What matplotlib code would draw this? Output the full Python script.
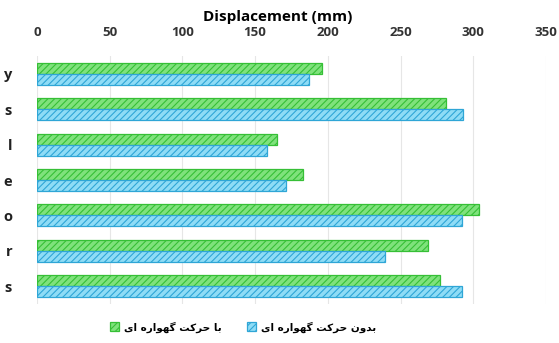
import numpy as np
import matplotlib.pyplot as plt

# Displacement per case, two configurations
cases = ['y', 's', 'l', 'e', 'o', 'r', 's']
with_cradle = [196, 281, 165, 183, 304, 269, 277]
without_cradle = [187, 293, 158, 171, 292, 239, 292]
x_ticks = [0, 50, 100, 150, 200, 250, 300, 350]

# Persian labels in visual order (presentation forms, since matplotlib does no shaping)
label_with = '\uFBFC\uFE8D \uFEE9\uFEAD\uFE8D\uFEEE\uFEEC\uFB94 \uFE96\uFB90\uFEAE\uFEA3 \uFE8E\uFE91'
label_without = '\uFBFC\uFE8D \uFEE9\uFEAD\uFE8D\uFEEE\uFEEC\uFB94 \uFE96\uFB90\uFEAE\uFEA3 \uFEE5\uFEED\uFEAA\uFE91'

plt.rcParams['hatch.linewidth'] = 0.8
plt.rcParams['font.family'] = ['Open Sans', 'DejaVu Sans']

fig = plt.figure(figsize=(5.59, 3.43), dpi=100)
ax = fig.add_axes([0.0662, 0.1137, 0.9105, 0.723])

y = np.arange(len(cases))
h = 0.31
ax.barh(y - h / 2, with_cradle, height=h, color='#7fe27c', edgecolor='#36bf36',
        hatch='/////', linewidth=0.9, label=label_with)
ax.barh(y + h / 2, without_cradle, height=h, color='#8edcf6', edgecolor='#2fa6d6',
        hatch='/////', linewidth=0.9, label=label_without)

ax.set_xlim(0, 350)
ax.set_ylim(len(cases) - 0.5, -0.5)
ax.set_xticks(x_ticks)
ax.set_yticks(y)
ax.set_yticklabels(cases)
ax.xaxis.tick_top()
ax.xaxis.set_label_position('top')
ax.set_xlabel('Displacement (mm)', fontsize=11, fontweight='bold', labelpad=4)
ax.xaxis.label.set_x(0.472)
ax.tick_params(axis='x', length=0, labelsize=9.5, labelcolor='#333333', pad=12)
ax.tick_params(axis='y', length=0, labelsize=10.5, labelcolor='#222222', pad=18)
for lbl in ax.get_xticklabels() + ax.get_yticklabels():
    lbl.set_fontweight('bold')

ax.grid(axis='x', color='#e6e6e6', linewidth=0.8)
ax.set_axisbelow(True)
for s in ax.spines.values():
    s.set_visible(False)

fig.legend(loc='center', bbox_to_anchor=(0.435, 0.047), ncol=2, frameon=False,
           handlelength=0.9, handleheight=0.9, handletextpad=0.5, columnspacing=2.4,
           prop={'family': 'DejaVu Sans', 'weight': 'bold', 'size': 7.5})

fig.savefig('out.png', dpi=100)
